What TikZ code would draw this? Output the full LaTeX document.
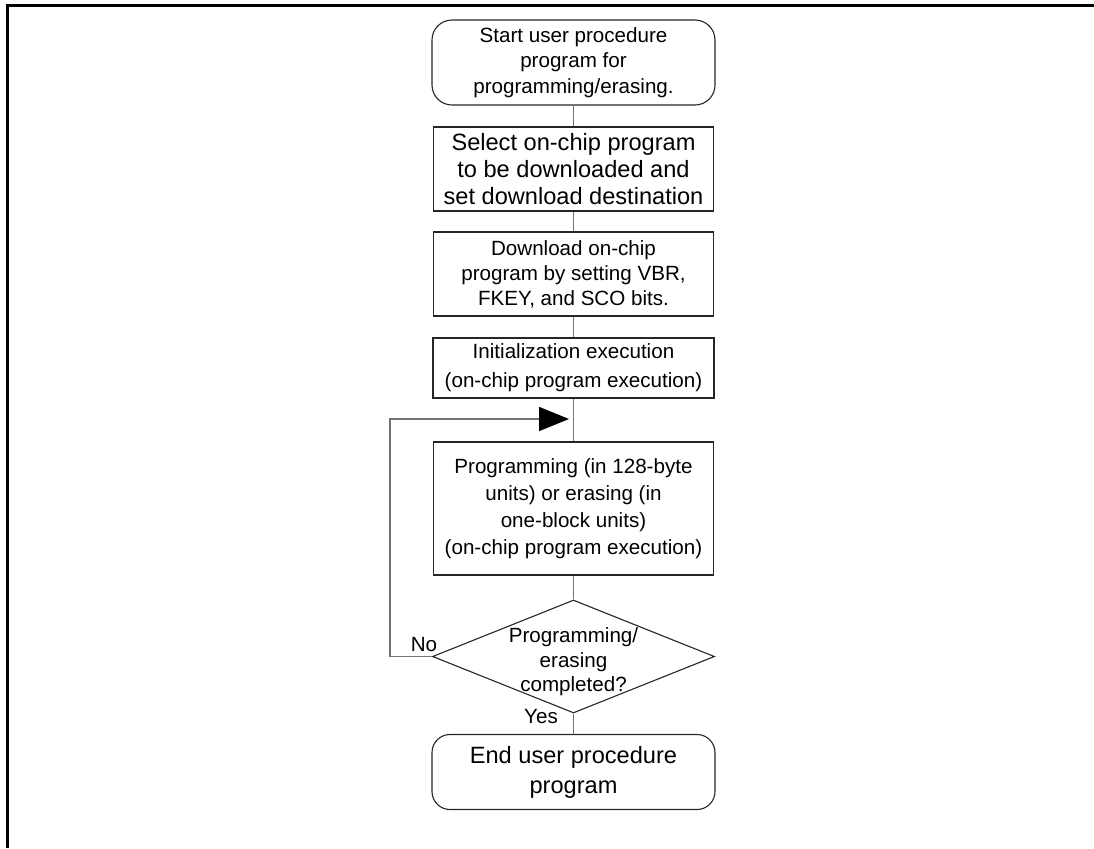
\documentclass[tikz,border=0pt]{standalone}
\usepackage{fontspec}
\setmainfont{Liberation Sans}
\usetikzlibrary{shapes.geometric,arrows.meta}

\begin{document}
\begin{tikzpicture}[
    x=0.5pt, y=-0.5pt,
    term/.style={rectangle, rounded corners=10pt, draw=black!85, line width=0.55pt, minimum width=141.5pt, inner sep=0pt, align=center, font=\fontsize{10.3}{12.8}\selectfont},
    proc/.style={rectangle, draw=black!85, line width=0.55pt, minimum width=140pt, inner sep=0pt, align=center, font=\fontsize{10.3}{13.5}\selectfont},
    bigtext/.style={font=\fontsize{11.8}{13.6}\selectfont},
    decision/.style={diamond, draw=black!85, line width=0.55pt, minimum width=141pt, minimum height=56.5pt, inner sep=0pt},
    conn/.style={draw=black!55, line width=0.9pt},
    loopback/.style={conn, -{Triangle[length=15pt, width=12pt, color=black]}},
    lbl/.style={font=\fontsize{10.3}{12.3}\selectfont, inner sep=0pt, align=center},
]
\useasboundingbox (0,0) rectangle (1094,848);

% ---- page frame ----
\draw[line width=1.5pt] (7,848) -- (7,5) -- (1094,5);

% ---- centre column ----
\def\cx{573.5}

% ---- steps ----
\node[term, minimum height=42.5pt] (start) at (\cx,62.5) {Start user procedure\\program for\\programming/erasing.};
\node[proc, bigtext, minimum height=42pt] (select) at (\cx,169) {Select on-chip program\\to be downloaded and\\set download destination};
\node[proc, minimum height=42pt, font=\fontsize{10.3}{12.5}\selectfont] (dload) at (\cx,274) {Download on-chip\\program by setting VBR,\\FKEY, and SCO bits.};
\node[proc, minimum height=30pt, minimum width=140.5pt, font=\fontsize{10.3}{14.5}\selectfont] (init) at (\cx,368) {Initialization execution\\(on-chip program execution)};
\node[proc, minimum height=66.5pt] (prog) at (\cx,508.5) {Programming (in 128-byte\\units) or erasing (in\\one-block units)\\(on-chip program execution)};
\node[decision] (check) at (\cx,656.5) {};
\node[lbl] (checktxt) at (\cx,662) {Programming/\\erasing\\completed?};
\node[term, bigtext, minimum height=37.5pt, rounded corners=9pt, font=\fontsize{11.8}{15}\selectfont] (finish) at (\cx,772) {End user procedure\\program};

% ---- labels ----
\node[lbl] (nolbl) at (424,645) {No};
\node[lbl] (yeslbl) at (541,717) {Yes};

% ---- connectors ----
\draw[conn] (start) -- (select);
\draw[conn] (select) -- (dload);
\draw[conn] (dload) -- (init);
\draw[conn] (init) -- (prog);
\draw[conn] (prog) -- (check);
\draw[conn] (check) -- (finish);

% ---- loop back ----
\coordinate (looptop) at (390,419);
\coordinate (merge) at (569,419);
\draw[loopback] (check.west) -| (looptop) -- (merge);

\end{tikzpicture}
\end{document}
